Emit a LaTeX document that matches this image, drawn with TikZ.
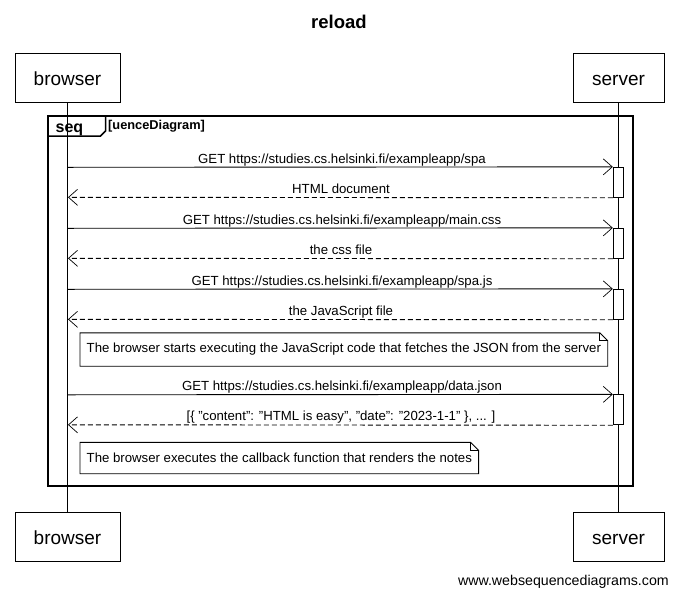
\documentclass[tikz,border=0pt]{standalone}
\usepackage{fontspec}
\setmainfont{Liberation Sans}
\usetikzlibrary{arrows.meta}
\newcommand{\dq}{\symbol{34}}
\begin{document}
\begin{tikzpicture}[x=1pt,y=-1pt,
  actor/.style={draw, line width=0.9pt, fill=white, minimum width=105pt, minimum height=49pt, inner sep=0pt, text height=16pt, text depth=1pt, font=\fontsize{19}{21}\selectfont},
  actorr/.style={actor, minimum width=91pt},
  lifeline/.style={line width=0.9pt},
  act/.style={draw, line width=0.9pt, fill=white, minimum width=10.5pt, minimum height=30pt, inner sep=0pt},
  req/.style={line width=0.9pt, -{Straight Barb[length=9pt,width=16pt,line width=0.7pt]}},
  ret/.style={req, dash pattern=on 5pt off 3pt},
  msg/.style={anchor=base, inner sep=0pt, font=\fontsize{13.2}{15}\selectfont},
  notebox/.style={anchor=west, inner xsep=6.5pt, minimum height=33pt, font=\fontsize{13.2}{15}\selectfont},
  notefold/.style={line width=0.9pt, fill=white}
]
\useasboundingbox (0,0) rectangle (678,595);
\fill[white] (0,0) rectangle (678,595);

% title
\node[font=\bfseries\fontsize{18.5}{20}\selectfont] (title) at (339,22) {reload};

% actors
\node[actor] (bt) at (67.5,77.5) {browser};
\node[actorr] (st) at (618.5,77.5) {server};
\node[actor] (bb) at (67.5,536.5) {browser};
\node[actorr] (sb) at (618.5,536.5) {server};

\draw[lifeline] (bt.south) -- (bb.north);
\draw[lifeline] (st.south) -- (sb.north);

% frame
\draw[line width=1.8pt] (48,116) rectangle (633,486);
\draw[line width=1.5pt] (48,116) -- (105.5,116) -- (105.5,131) -- (100.5,136) -- (48,136);
\node[anchor=base west, inner sep=0pt, font=\bfseries\fontsize{16}{18}\selectfont] (seqlbl) at (55.5,132.5) {seq};
\node[anchor=base west, inner sep=0pt, font=\bfseries\fontsize{12.8}{14}\selectfont] (seqname) at (108,129) {[uenceDiagram]};

% activations
\node[act] (a1) at (618.5,182.3) {};
\node[act] (a2) at (618.5,243.3) {};
\node[act] (a3) at (618.5,304.3) {};
\node[act] (a4) at (618.5,409.8) {};

% browser lifeline points
\coordinate (b1) at (68,167.3);
\coordinate (b2) at (68,197.3);
\coordinate (b3) at (68,228.3);
\coordinate (b4) at (68,258.3);
\coordinate (b5) at (68,289.3);
\coordinate (b6) at (68,319.3);
\coordinate (b7) at (68,394.8);
\coordinate (b8) at (68,424.8);

\draw[req] (b1) -- (a1.north west);
\node[msg] (m1) at (342,163) {GET https://studies.cs.helsinki.fi/exampleapp/spa};
\draw[ret] (a1.south west) -- (b2);
\node[msg] (m2) at (341,193) {HTML document};

\draw[req] (b3) -- (a2.north west);
\node[msg] (m3) at (342,224) {GET https://studies.cs.helsinki.fi/exampleapp/main.css};
\draw[ret] (a2.south west) -- (b4);
\node[msg] (m4) at (341,254) {the css file};

\draw[req] (b5) -- (a3.north west);
\node[msg] (m5) at (342,285) {GET https://studies.cs.helsinki.fi/exampleapp/spa.js};
\draw[ret] (a3.south west) -- (b6);
\node[msg] (m6) at (341,315) {the JavaScript file};

% note 1
\node[notebox] (n1) at (80,349.5) {The browser starts executing the JavaScript code that fetches the JSON from the server};
\draw[notefold] (n1.south west) -- (n1.north west) -- ([xshift=-8pt]n1.north east) -- ([yshift=-8pt]n1.north east) -- (n1.south east) -- cycle;
\draw[line width=0.9pt] ([xshift=-8pt]n1.north east) -- ([xshift=-8pt,yshift=-8pt]n1.north east) -- ([yshift=-8pt]n1.north east);
\node[notebox] (n1t) at (80,349.5) {The browser starts executing the JavaScript code that fetches the JSON from the server};

\draw[req] (b7) -- (a4.north west);
\node[msg] (m7) at (342,390.5) {GET https://studies.cs.helsinki.fi/exampleapp/data.json};
\draw[ret] (a4.south west) -- (b8);
\node[msg] (m8) at (341,420.5) {[\{ \dq content\dq : \dq HTML is easy\dq , \dq date\dq : \dq 2023-1-1\dq\ \}, ... ]};

% note 2
\node[notebox, minimum height=31pt] (n2) at (80,458) {The browser executes the callback function that renders the notes};
\draw[notefold] (n2.south west) -- (n2.north west) -- ([xshift=-8pt]n2.north east) -- ([yshift=-8pt]n2.north east) -- (n2.south east) -- cycle;
\draw[line width=0.9pt] ([xshift=-8pt]n2.north east) -- ([xshift=-8pt,yshift=-8pt]n2.north east) -- ([yshift=-8pt]n2.north east);
\node[notebox, minimum height=31pt] (n2t) at (80,458) {The browser executes the callback function that renders the notes};

% footer
\node[anchor=base east, inner sep=0pt, font=\fontsize{14.2}{16}\selectfont] (wsd) at (669,585) {www.websequencediagrams.com};
\end{tikzpicture}
\end{document}
